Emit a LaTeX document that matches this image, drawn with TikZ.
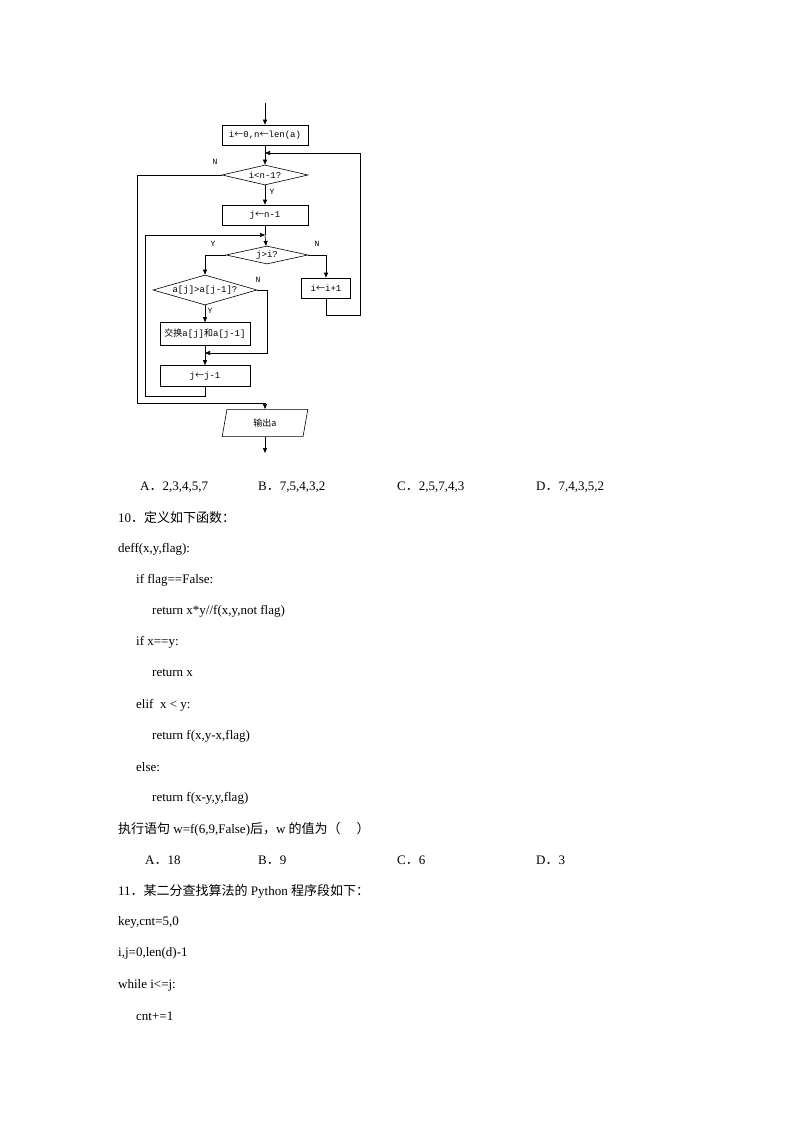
\documentclass[tikz,border=0pt]{standalone}
\usepackage{fontspec}
\setmainfont{Liberation Serif}
\newfontfamily\cjk{Noto Sans CJK SC}
\newfontfamily\fmono{Liberation Mono}
\usetikzlibrary{shapes.geometric,arrows.meta}
\newcommand{\fw}{{\cjk ．}}
\begin{document}
\begin{tikzpicture}[x=1pt,y=-1pt,
  box/.style={draw,line width=0.6pt,inner sep=0pt,font=\fmono\fontsize{9}{10}\selectfont},
  dia/.style={draw,diamond,aspect=4.3,inner sep=0pt,line width=0.6pt,font=\fmono\fontsize{9}{10}\selectfont},
  lab/.style={font=\fmono\fontsize{8}{9}\selectfont},
  ln/.style={line width=0.6pt},
  ar/.style={line width=0.6pt,-{Triangle[length=5pt,width=4pt]}},
  tx/.style={anchor=west,inner sep=0pt,font=\fontsize{13}{15}\selectfont}]
\useasboundingbox (0,0) rectangle (794,1123);
\node[box,minimum width=86,minimum height=20] (b1) at (265,135) {i{\cjk ←}0,n{\cjk ←}len(a)};
\coordinate (top) at (265,103);
\draw[ar] (top) -- (b1);
\node[dia,minimum width=86,minimum height=20] (d1) at (265,175) {i<n-1?};
\node[box,minimum width=86,minimum height=20] (b2) at (265,215) {j{\cjk ←}n-1};
\node[dia,minimum width=82,minimum height=18] (d2) at (267,255) {j>i?};
\node[box,minimum width=49,minimum height=20] (b3) at (326,288) {i{\cjk ←}i+1};
\node[dia,minimum width=104,minimum height=30,aspect=3.5] (d3) at (205,290) {a[j]>a[j-1]?};
\node[box,minimum width=90,minimum height=23] (b4) at (205,334) {{\cjk 交换}a[j]{\cjk 和}a[j-1]};
\node[box,minimum width=90,minimum height=21] (b5) at (205,376) {j{\cjk ←}j-1};
\node[trapezium,trapezium left angle=80,trapezium right angle=100,draw,line width=0.6pt,minimum width=86,minimum height=20,inner sep=0pt,font=\fontsize{9}{10}\selectfont\cjk] (out) at (265,423) {输出a};
\coordinate (m1) at (265,153);
\coordinate (m2) at (265,235);
\coordinate (m3) at (205,353);
\coordinate (m4) at (265,403);
\coordinate (end) at (265,453);
\draw[ln] (b1) -- (m1);
\draw[ar] (m1) -- (d1);
\draw[ar] (d1) -- (b2);
\draw[ln] (b2) -- (m2);
\draw[ar] (m2) -- (d2);
\draw[ar] (d2.west) -| (d3.north);
\draw[ar] (d2.east) -| (b3.north);
\draw[ar] (b3.south) |- (360,315) |- (m1);
\draw[ar] (d3) -- (b4);
\draw[ln] (b4) -- (m3);
\draw[ar] (d3.east) -| (267,353) -- (m3);
\draw[ar] (m3) -- (b5);
\draw[ar] (b5.south) |- (145,396) |- (m2);
\draw[ln] (d1.west) -| (137,403) -- (m4);
\draw[ar] (m4) -- (out);
\draw[ar] (out) -- (end);
\node[lab] at (215,162) {N};
\node[lab] at (272,192) {Y};
\node[lab] at (213,244) {Y};
\node[lab] at (317,244) {N};
\node[lab] at (258,280) {N};
\node[lab] at (210,311) {Y};
\node[tx] (oa) at (140,487) {A\fw 2,3,4,5,7};
\node[tx] (ob) at (258,487) {B\fw 7,5,4,3,2};
\node[tx] (oc) at (397,487) {C\fw 2,5,7,4,3};
\node[tx] (od) at (536,487) {D\fw 7,4,3,5,2};
\node[tx] (q10) at (118,518) {10\fw{\cjk 定义如下函数：}};
\node[tx] (l1) at (118,549) {deff(x,y,flag):};
\node[tx] (l2) at (136,580) {if flag==False:};
\node[tx] (l3) at (152,611) {return x*y//f(x,y,not flag)};
\node[tx] (l4) at (136,642) {if x==y:};
\node[tx] (l5) at (152,673) {return x};
\node[tx] (l6) at (136,705) {elif\ \ x < y:};
\node[tx] (l7) at (152,736) {return f(x,y-x,flag)};
\node[tx] (l8) at (136,767) {else:};
\node[tx] (l9) at (152,798) {return f(x-y,y,flag)};
\node[tx] (l10) at (118,829) {{\cjk 执行语句} w=f(6,9,False){\cjk 后，}w {\cjk 的值为（\quad\ ）}};
\node[tx] (pa) at (145,860) {A\fw 18};
\node[tx] (pb) at (258,860) {B\fw 9};
\node[tx] (pc) at (397,860) {C\fw 6};
\node[tx] (pd) at (536,860) {D\fw 3};
\node[tx] (q11) at (118,891) {11\fw{\cjk 某二分查找算法的} Python {\cjk 程序段如下：}};
\node[tx] (k1) at (118,922) {key,cnt=5,0};
\node[tx] (k2) at (118,953) {i,j=0,len(d)-1};
\node[tx] (k3) at (118,985) {while i<=j:};
\node[tx] (k4) at (136,1016) {cnt+=1};
\end{tikzpicture}
\end{document}
